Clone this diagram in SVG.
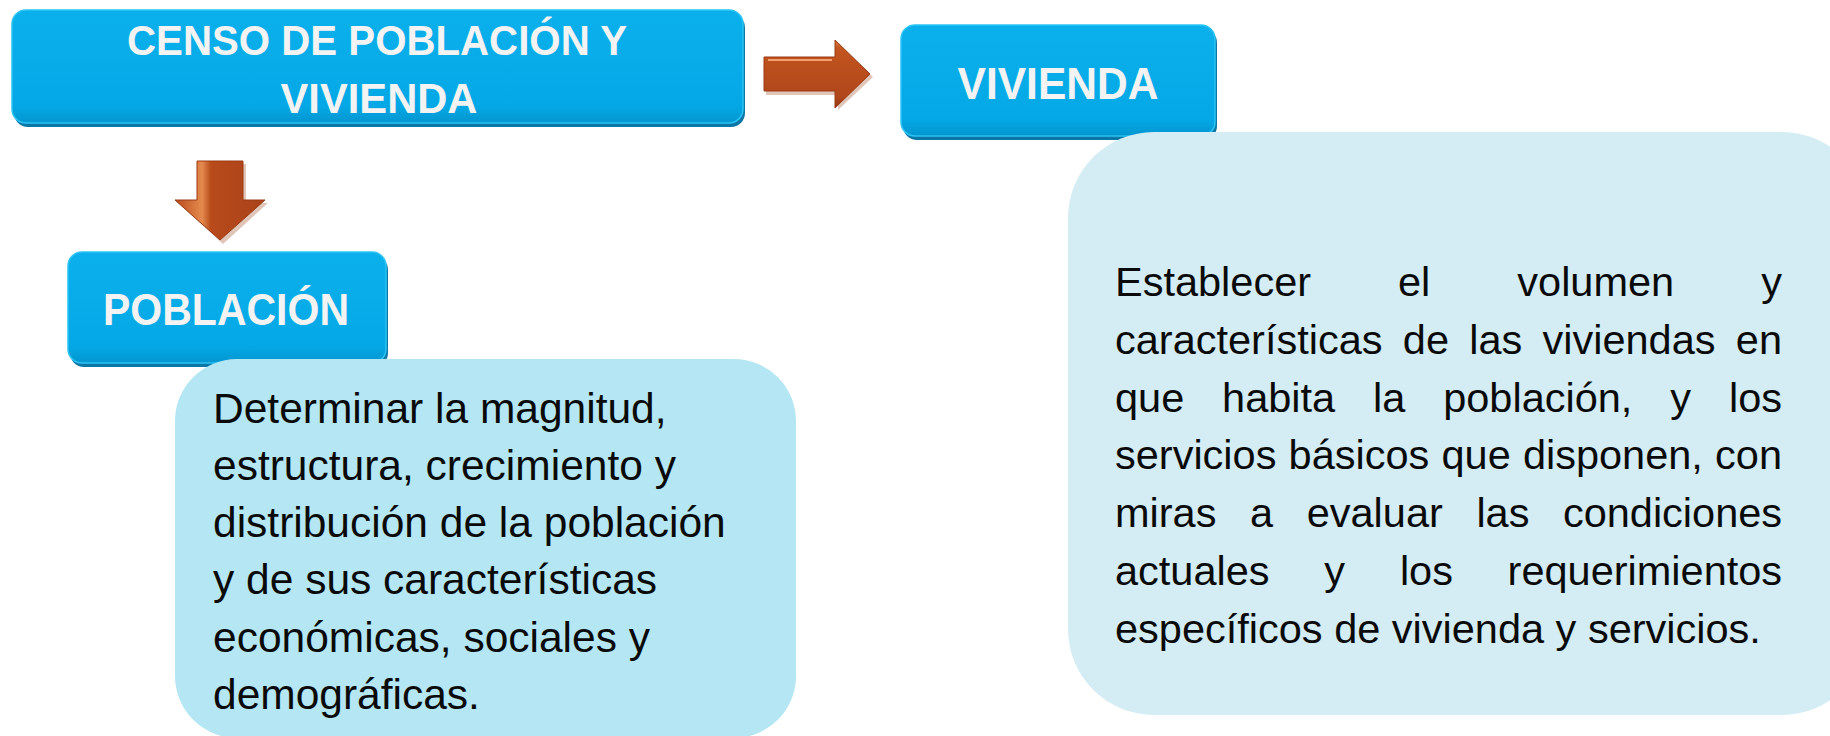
<svg xmlns="http://www.w3.org/2000/svg" width="1830" height="736" viewBox="0 0 1830 736">
<defs>
<linearGradient id="blueG" x1="0" y1="0" x2="0" y2="1">
<stop offset="0" stop-color="#0AB0EC"/>
<stop offset="0.85" stop-color="#04A8E6"/>
<stop offset="1" stop-color="#0396D0"/>
</linearGradient>
<linearGradient id="arrH" x1="0" y1="0" x2="0" y2="1">
<stop offset="0" stop-color="#E07A3C"/>
<stop offset="0.12" stop-color="#C2551F"/>
<stop offset="0.85" stop-color="#B0461A"/>
<stop offset="1" stop-color="#8E3512"/>
</linearGradient>
<linearGradient id="arrV" x1="0" y1="0" x2="1" y2="0">
<stop offset="0" stop-color="#B84A1B"/>
<stop offset="0.3" stop-color="#E58A4E"/>
<stop offset="0.4" stop-color="#B84A1B"/>
<stop offset="1" stop-color="#A9421A"/>
</linearGradient>
<style>
.hdrShadow{fill:#0A77A6;}
.hdr{fill:url(#blueG);stroke:#2BC4F5;stroke-width:1.5;}
.hdrText{font-family:"Liberation Sans",Arial,sans-serif;font-weight:bold;fill:#F3F3F3;text-anchor:middle;}
.body{font-family:"Liberation Sans",Arial,sans-serif;fill:#0A0A0A;}
.arrow{stroke:#9A3A14;stroke-width:1;stroke-linejoin:miter;}
</style>
</defs>
<rect width="1830" height="736" fill="#FFFFFF"/>

<g id="connectors">
<g id="arrow-right">
<polygon points="766,61 838,61 838,44 873,77 838,110 838,95 766,95" fill="#C9A08A" opacity="0.6"/>
<polygon class="arrow" points="764,57 835,57 835,40 870,74 835,108 835,91 764,91" fill="url(#arrH)"/>
<line x1="768" y1="60" x2="832" y2="60" stroke="#F0A070" stroke-width="2"/>
</g>
<g id="arrow-down">
<polygon points="200,164 246,164 246,203 268,203 223,244 178,203 200,203" fill="#C9A08A" opacity="0.6"/>
<polygon class="arrow" points="197,161 243,161 243,200 265,200 220,240 175,200 197,200" fill="url(#arrV)"/>
</g>
</g>

<g id="node-censo">
<rect class="hdrShadow" x="14" y="14" width="731" height="113" rx="14"/>
<rect class="hdr" x="12" y="10" width="731" height="113" rx="14"/>
<text class="hdrText" x="377" y="55" font-size="43" textLength="500" lengthAdjust="spacingAndGlyphs">CENSO DE POBLACIÓN Y</text>
<text class="hdrText" x="379" y="113" font-size="43" textLength="197" lengthAdjust="spacingAndGlyphs">VIVIENDA</text>
</g>

<g id="node-vivienda">
<rect class="hdrShadow" x="903" y="29" width="314" height="111" rx="14"/>
<rect class="hdr" x="901" y="25" width="314" height="111" rx="14"/>
<text class="hdrText" x="1058" y="99" font-size="44" textLength="201" lengthAdjust="spacingAndGlyphs">VIVIENDA</text>
</g>

<g id="node-vivienda-desc">
<rect x="1068" y="132" width="800" height="583" rx="86" fill="#D4EDF4"/>
<text class="body" font-size="41.5">
<tspan x="1115" y="296">Establecer</tspan><tspan x="1398" y="296">el</tspan><tspan x="1517.3" y="296">volumen</tspan><tspan x="1761.2" y="296">y</tspan>
<tspan x="1115" y="354">características</tspan><tspan x="1402.8" y="354">de</tspan><tspan x="1469.2" y="354">las</tspan><tspan x="1542.5" y="354">viviendas</tspan><tspan x="1735.8" y="354">en</tspan>
<tspan x="1115" y="412">que</tspan><tspan x="1222.1" y="412">habita</tspan><tspan x="1373" y="412">la</tspan><tspan x="1443.2" y="412">población,</tspan><tspan x="1670.3" y="412">y</tspan><tspan x="1729" y="412">los</tspan>
<tspan x="1115" y="469">servicios</tspan><tspan x="1288.6" y="469">básicos</tspan><tspan x="1441.5" y="469">que</tspan><tspan x="1522.9" y="469">disponen,</tspan><tspan x="1715.1" y="469">con</tspan>
<tspan x="1115" y="527">miras</tspan><tspan x="1250" y="527">a</tspan><tspan x="1306.7" y="527">evaluar</tspan><tspan x="1476.4" y="527">las</tspan><tspan x="1562.9" y="527">condiciones</tspan>
<tspan x="1115" y="585">actuales</tspan><tspan x="1324.3" y="585">y</tspan><tspan x="1399.9" y="585">los</tspan><tspan x="1507.6" y="585">requerimientos</tspan>
<tspan x="1115" y="643">específicos de vivienda y servicios.</tspan>
</text>
</g>

<g id="node-poblacion">
<rect class="hdrShadow" x="70" y="256" width="318" height="111" rx="14"/>
<rect class="hdr" x="68" y="252" width="318" height="111" rx="14"/>
<text class="hdrText" x="226" y="325" font-size="44" textLength="246" lengthAdjust="spacingAndGlyphs">POBLACIÓN</text>
</g>

<g id="node-poblacion-desc">
<rect x="175" y="359" width="621" height="379" rx="62" fill="#B4E7F3"/>
<text class="body" font-size="42.5">
<tspan x="213" y="423">Determinar la magnitud,</tspan>
<tspan x="213" y="480">estructura, crecimiento y</tspan>
<tspan x="213" y="537">distribución de la población</tspan>
<tspan x="213" y="594">y de sus características</tspan>
<tspan x="213" y="652">económicas, sociales y</tspan>
<tspan x="213" y="709">demográficas.</tspan>
</text>
</g>
</svg>
